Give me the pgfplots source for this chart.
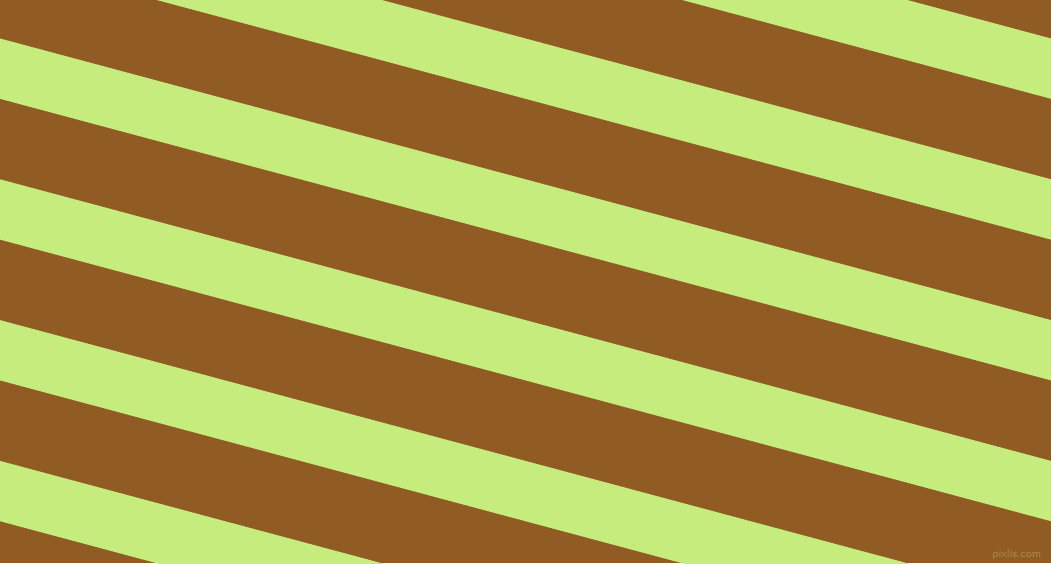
\documentclass[border=0pt]{standalone}
\usepackage{pgfplots}
\pgfplotsset{compat=1.18}
\definecolor{stripebrown}{RGB}{145,92,36}
\definecolor{stripegreen}{RGB}{198,236,126}
\definecolor{markgrey}{RGB}{170,140,70}
\begin{document}
\begin{tikzpicture}
\begin{axis}[
	width=10.51cm,
	height=5.63cm,
	scale only axis,
	hide axis,
	xmin=0, xmax=1051,
	ymin=0, ymax=563,
	y dir=reverse,
	clip=true
]
% background
\addplot[fill=stripebrown, draw=none] coordinates {(0,0) (1051,0) (1051,563) (0,563)} -- cycle;
% light stripes, 15 degrees, y = c + 0.268 x
\addplot[fill=stripegreen, draw=none] coordinates {(0,-243.1) (1051,38.5) (1051,98.8) (0,-182.8)} -- cycle;
\addplot[fill=stripegreen, draw=none] coordinates {(0,-102.3) (1051,179.3) (1051,239.6) (0,-42.0)} -- cycle;
\addplot[fill=stripegreen, draw=none] coordinates {(0,38.5) (1051,320.1) (1051,380.4) (0,98.8)} -- cycle;
\addplot[fill=stripegreen, draw=none] coordinates {(0,179.3) (1051,460.9) (1051,521.2) (0,239.6)} -- cycle;
\addplot[fill=stripegreen, draw=none] coordinates {(0,320.1) (1051,601.7) (1051,662.0) (0,380.4)} -- cycle;
\addplot[fill=stripegreen, draw=none] coordinates {(0,460.9) (1051,742.5) (1051,802.8) (0,521.2)} -- cycle;
\node[anchor=east, inner sep=0pt, text=markgrey, font=\fontsize{3.2}{3.2}\selectfont\sffamily] at (axis cs:1042,555) {pixlis.com};
\end{axis}
\end{tikzpicture}
\end{document}
